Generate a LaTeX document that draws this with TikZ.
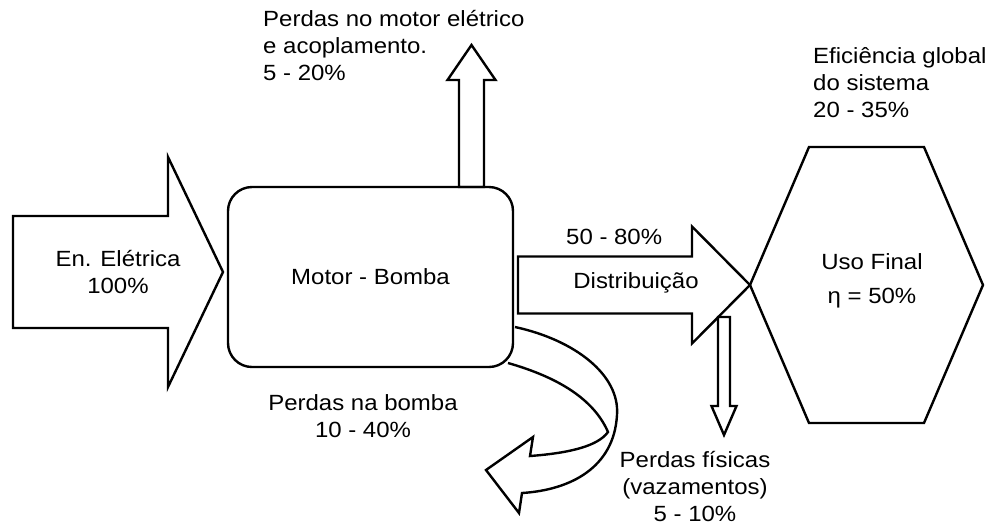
\documentclass[tikz,border=0pt]{standalone}
\usepackage{fontspec}
\setmainfont[FakeStretch=1.09]{Liberation Sans}
\usetikzlibrary{positioning}
% arrow pointing to the right: name, tail x, base x, tip x, mid y, half shaft, half head
\newcommand{\ArrowRight}[7]{
  \coordinate (#1-tail) at (#2,#5);
  \coordinate (#1-tip) at (#4,#5);
  \draw (#2,#5-#6) -- (#3,#5-#6) -- (#3,#5-#7) -- (#1-tip)
    -- (#3,#5+#7) -- (#3,#5+#6) -- (#2,#5+#6) -- cycle;
}
% vertical arrow: name, mid x, tail y, base y, tip y, half shaft, half head
\newcommand{\ArrowVert}[7]{
  \coordinate (#1-tail) at (#2,#3);
  \coordinate (#1-tip) at (#2,#5);
  \draw (#2-#6,#3) -- (#2-#6,#4) -- (#2-#7,#4) -- (#1-tip)
    -- (#2+#7,#4) -- (#2+#6,#4) -- (#2+#6,#3) -- cycle;
}
\tikzset{
  label text/.style={inner sep=0pt, font=\fontsize{11}{13.5}\selectfont},
  box/.style={draw, rounded corners=12pt, minimum width=142.5pt, minimum height=90pt}
}

\begin{document}
\begin{tikzpicture}[x=0.5pt, y=-0.5pt, line width=1.2pt]
  \useasboundingbox (0,0) rectangle (991,527);

  % energy in
  \ArrowRight{ein}{13}{168}{223}{272}{56}{115}
  \node[label text, align=center] (ein-label) at (118,272) {En. Elétrica\\100\%};

  % motor and pump
  \node[box, label text] (motor) at (370.5,277) {Motor - Bomba};

  % motor losses
  \ArrowVert{mloss}{471.5}{187}{80}{45}{12.5}{24}
  \node[label text, align=left, anchor=north west] (mloss-label) at (262,9)
    {Perdas no motor elétrico\\e acoplamento.\\5 - 20\%};

  % pump losses, twisted ribbon arrow
  \draw (515,327) .. controls (575,340) and (620,375) .. (617,415)
    .. controls (614,468) and (570,490) .. (522,493)
    -- (519,513) -- (486,470) -- (533,437) -- (530,456)
    .. controls (570,453) and (598,446) .. (608,432)
    .. controls (592,395) and (550,375) .. (508,363);
  \node[label text, align=center] (ploss-label) at (363,416) {Perdas na bomba\\10 - 40\%};

  % distribution
  \ArrowRight{dist}{518}{692}{750}{285}{28.5}{58.5}
  \node[label text, anchor=west] (dist-pct) at (565,237) {50 - 80\%};
  \node[label text] (dist-label) at (636,283) {Distribuição};

  % physical losses
  \ArrowVert{floss}{724}{317}{406}{435}{6}{12.5}
  \node[label text, align=center] (floss-label) at (695,486)
    {Perdas físicas\\(vazamentos)\\5 - 10\%};

  % final use
  \draw (dist-tip) -- (809,147) -- (924,147) -- (983,285) -- (924,423) -- (809,423) -- cycle;
  \node[label text, align=center] (final) at (872,281) {Uso Final\\[3.5pt]η = 50\%};
  \node[label text, align=left, anchor=north west] (eff-label) at (812,46)
    {Eficiência global\\do sistema\\20 - 35\%};
\end{tikzpicture}
\end{document}
